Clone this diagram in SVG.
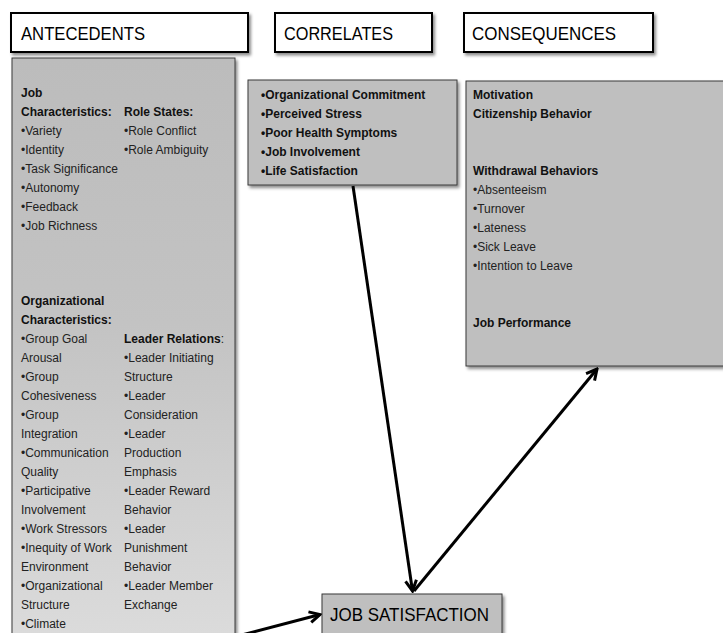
<svg xmlns="http://www.w3.org/2000/svg" width="723" height="633" viewBox="0 0 723 633">
  <defs>
    <filter id="sh" x="-10%" y="-10%" width="130%" height="130%">
      <feDropShadow dx="2" dy="2.5" stdDeviation="1.5" flood-color="#000" flood-opacity="0.45"/>
    </filter>
    <linearGradient id="lg" x1="0" y1="0" x2="0" y2="1">
      <stop offset="0" stop-color="#bcbcbc"/>
      <stop offset="0.45" stop-color="#c3c3c3"/>
      <stop offset="1" stop-color="#dcdcdc"/>
    </linearGradient>
    <marker id="ah" viewBox="0 0 14 14" markerWidth="14" markerHeight="14" refX="12" refY="7" orient="auto" markerUnits="userSpaceOnUse">
      <path d="M1.5,1.5 L12,7 L1.5,12.5" fill="none" stroke="#000" stroke-width="3" stroke-linejoin="miter"/>
    </marker>
  </defs>
  <style>
    .hdr { fill: #fff; stroke: #000; stroke-width: 2; filter: url(#sh); }
    .gbox { fill: #bfbfbf; stroke: #3a3a3a; stroke-width: 1; filter: url(#sh); }
    .ht { font-family: "Liberation Sans", Arial, sans-serif; font-size: 19px; fill: #000; }
    .t { font-family: "Liberation Sans", Arial, sans-serif; font-size: 12px; fill: #222; }
    .b { font-weight: bold; fill: #111; }
    .conn { stroke: #000; stroke-width: 3; fill: none; marker-end: url(#ah); }
  </style>

  <g id="header-antecedents">
    <rect class="hdr" x="11" y="13" width="237" height="39"/>
    <text class="ht" x="21" y="40" textLength="124" lengthAdjust="spacingAndGlyphs">ANTECEDENTS</text>
  </g>
  <g id="header-correlates">
    <rect class="hdr" x="275" y="13" width="157" height="39"/>
    <text class="ht" x="284" y="40" textLength="109" lengthAdjust="spacingAndGlyphs">CORRELATES</text>
  </g>
  <g id="header-consequences">
    <rect class="hdr" x="464" y="13" width="189" height="39"/>
    <text class="ht" x="472" y="40" textLength="144" lengthAdjust="spacingAndGlyphs">CONSEQUENCES</text>
  </g>

  <g id="connectors">
    <line class="conn" x1="353" y1="186" x2="412.5" y2="591"/>
    <line class="conn" x1="414" y1="591" x2="597" y2="369"/>
    <line class="conn" x1="236" y1="636.5" x2="320" y2="614.5"/>
  </g>

  <g id="antecedents">
    <rect x="12" y="58" width="223" height="590" fill="url(#lg)" stroke="#3a3a3a" stroke-width="1" filter="url(#sh)"/>
    <text class="t b" x="21" y="97">Job</text>
    <text class="t b" x="21" y="116">Characteristics:</text>
    <text class="t" x="21" y="135">•Variety</text>
    <text class="t" x="21" y="154">•Identity</text>
    <text class="t" x="21" y="173">•Task Significance</text>
    <text class="t" x="21" y="192">•Autonomy</text>
    <text class="t" x="21" y="211">•Feedback</text>
    <text class="t" x="21" y="230">•Job Richness</text>
    <text class="t b" x="124" y="116">Role States:</text>
    <text class="t" x="124" y="135">•Role Conflict</text>
    <text class="t" x="124" y="154">•Role Ambiguity</text>

    <text class="t b" x="21" y="305">Organizational</text>
    <text class="t b" x="21" y="324">Characteristics:</text>
    <text class="t" x="21" y="343">•Group Goal</text>
    <text class="t" x="21" y="362">Arousal</text>
    <text class="t" x="21" y="381">•Group</text>
    <text class="t" x="21" y="400">Cohesiveness</text>
    <text class="t" x="21" y="419">•Group</text>
    <text class="t" x="21" y="438">Integration</text>
    <text class="t" x="21" y="457">•Communication</text>
    <text class="t" x="21" y="476">Quality</text>
    <text class="t" x="21" y="495">•Participative</text>
    <text class="t" x="21" y="514">Involvement</text>
    <text class="t" x="21" y="533">•Work Stressors</text>
    <text class="t" x="21" y="552">•Inequity of Work</text>
    <text class="t" x="21" y="571">Environment</text>
    <text class="t" x="21" y="590">•Organizational</text>
    <text class="t" x="21" y="609">Structure</text>
    <text class="t" x="21" y="628">•Climate</text>

    <text class="t" x="124" y="343"><tspan class="b">Leader Relations</tspan>:</text>
    <text class="t" x="124" y="362">•Leader Initiating</text>
    <text class="t" x="124" y="381">Structure</text>
    <text class="t" x="124" y="400">•Leader</text>
    <text class="t" x="124" y="419">Consideration</text>
    <text class="t" x="124" y="438">•Leader</text>
    <text class="t" x="124" y="457">Production</text>
    <text class="t" x="124" y="476">Emphasis</text>
    <text class="t" x="124" y="495">•Leader Reward</text>
    <text class="t" x="124" y="514">Behavior</text>
    <text class="t" x="124" y="533">•Leader</text>
    <text class="t" x="124" y="552">Punishment</text>
    <text class="t" x="124" y="571">Behavior</text>
    <text class="t" x="124" y="590">•Leader Member</text>
    <text class="t" x="124" y="609">Exchange</text>
  </g>

  <g id="correlates">
    <rect class="gbox" x="248" y="80" width="209" height="105"/>
    <text class="t b" x="261" y="99">•Organizational Commitment</text>
    <text class="t b" x="261" y="118">•Perceived Stress</text>
    <text class="t b" x="261" y="137">•Poor Health Symptoms</text>
    <text class="t b" x="261" y="156">•Job Involvement</text>
    <text class="t b" x="261" y="175">•Life Satisfaction</text>
  </g>

  <g id="consequences">
    <rect class="gbox" x="466" y="81" width="270" height="285"/>
    <text class="t b" x="473" y="99">Motivation</text>
    <text class="t b" x="473" y="118">Citizenship Behavior</text>
    <text class="t b" x="473" y="175">Withdrawal Behaviors</text>
    <text class="t" x="473" y="194">•Absenteeism</text>
    <text class="t" x="473" y="213">•Turnover</text>
    <text class="t" x="473" y="232">•Lateness</text>
    <text class="t" x="473" y="251">•Sick Leave</text>
    <text class="t" x="473" y="270">•Intention to Leave</text>
    <text class="t b" x="473" y="327">Job Performance</text>
  </g>

  <g id="job-satisfaction">
    <rect class="gbox" x="322" y="594" width="180" height="50"/>
    <text class="ht" x="330" y="621" textLength="159" lengthAdjust="spacingAndGlyphs">JOB SATISFACTION</text>
  </g>
</svg>
